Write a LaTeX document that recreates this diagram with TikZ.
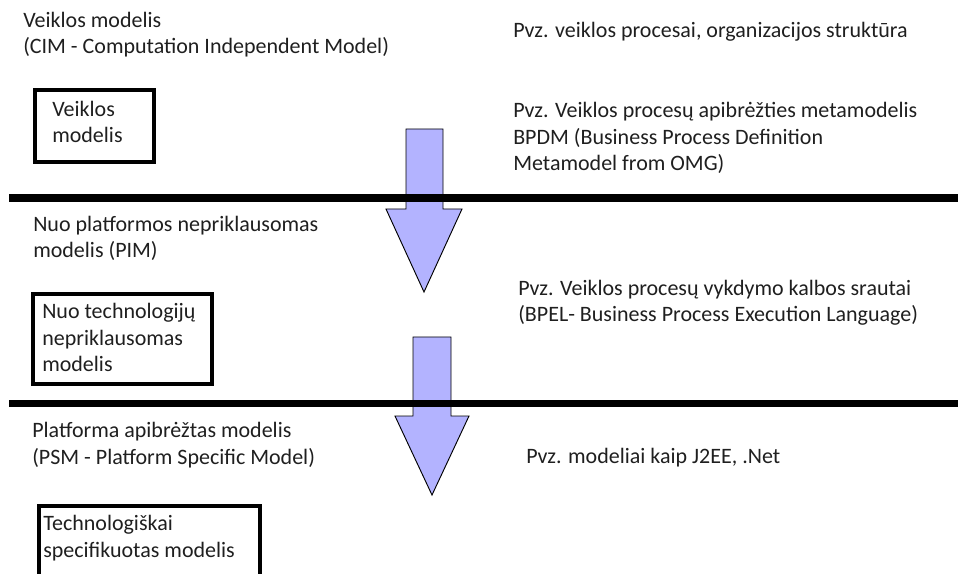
\documentclass[tikz,border=0pt]{standalone}
\usepackage{fontspec}
\setmainfont{Carlito}
\begin{document}
\begin{tikzpicture}[x=0.75pt,y=-0.75pt,
  % anchor base west sits on the last line's baseline
  txt/.style={anchor=base west,inner sep=0pt,align=left,
    font=\fontsize{16.5pt}{20pt}\selectfont,text=black!88},
  flowarrow/.style={draw=black,line width=0.7pt,fill={rgb,255:red,179;green,179;blue,255},line join=miter},
  divider/.style={line width=5.6pt},
  frame/.style={line width=3pt}]
\clip (0,0) rectangle (958,574);

% downward flow arrows between the levels
\draw[flowarrow] (406,129) -- (443,129) -- (443,209) -- (462,209) -- (424,292)
  -- (386,209) -- (406,209) -- cycle;
\draw[flowarrow] (413,337) -- (451,337) -- (451,416) -- (469,416) -- (432,495)
  -- (395,416) -- (413,416) -- cycle;

% level dividers
\coordinate (d1a) at (9,198);  \coordinate (d1b) at (960,198);
\coordinate (d2a) at (9,403.5); \coordinate (d2b) at (960,403.5);
\draw[divider] (d1a) -- (d1b);
\draw[divider] (d2a) -- (d2b);

% level titles
\node[txt] (cim) at (23,54) {Veiklos modelis\\(CIM - Computation Independent Model)};
\node[txt] (pim) at (33,258) {Nuo platformos nepriklausomas\\modelis (PIM)};
\node[txt] (psm) at (32,464) {Platforma apibrėžtas modelis\\(PSM - Platform Specific Model)};

% examples on the right
\node[txt] (ex0) at (513,38) {Pvz. veiklos procesai, organizacijos struktūra};
\node[txt] (ex1) at (513,171) {Pvz. Veiklos procesų apibrėžties metamodelis\\BPDM (Business Process Definition\\Metamodel from OMG)};
\node[txt] (ex2) at (518,322) {Pvz. Veiklos procesų vykdymo kalbos srautai\\(BPEL- Business Process Execution Language)};
\node[txt] (ex3) at (526,463) {Pvz. modeliai kaip J2EE, .Net};

% model boxes
\draw[frame] (35,90) rectangle (154,162);
\node[txt] (m1) at (52,143) {Veiklos\\modelis};
\draw[frame] (33,294) rectangle (212,384);
\node[txt] (m2) at (42,372) {Nuo technologijų\\nepriklausomas\\modelis};
\draw[frame] (39,506) rectangle (260,600);
\node[txt] (m3) at (43,557) {Technologiškai\\specifikuotas modelis};
\end{tikzpicture}
\end{document}
